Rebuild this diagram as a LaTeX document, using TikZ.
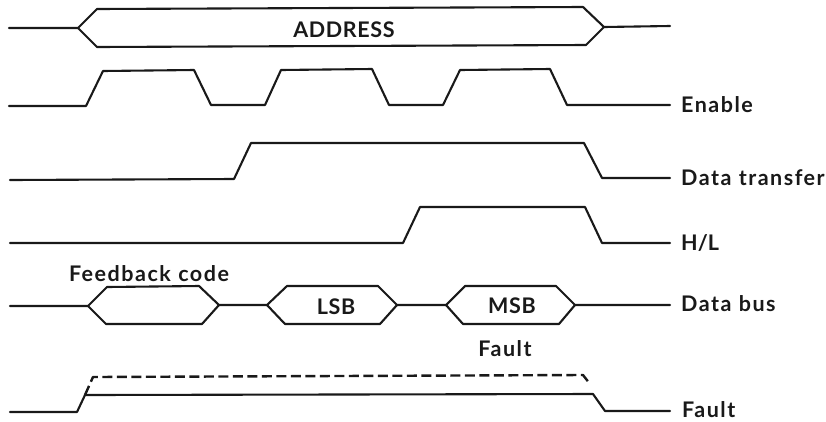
\documentclass[tikz,border=0pt]{standalone}
\usepackage{fontspec}
\setmainfont{Lato}[LetterSpace=3,WordSpace=1.1]
\tikzset{
  wave/.style={line width=2.1pt,line join=round,line cap=round,black!90},
  faintdash/.style={wave,line width=2.4pt,dash pattern=on 10pt off 4.5pt,line cap=butt},
  lab/.style={inner sep=0pt,font=\fontsize{21.5}{24}\selectfont\bfseries,text=black!90},
  widelab/.style={lab,font=\fontsize{21.5}{24}\selectfont\bfseries\addfontfeatures{LetterSpace=7}},
  tightlab/.style={lab,font=\fontsize{21.5}{24}\selectfont\bfseries\addfontfeatures{LetterSpace=0}}
}
\begin{document}
\begin{tikzpicture}[x=1pt,y=-1pt]
\useasboundingbox (0,0) rectangle (826,421);
% ADDRESS
\draw[wave] (9,28) -- (78,28) -- (97,9) -- (583,7) -- (604,27) -- (670,26);
\draw[wave] (78,28) -- (97,47) -- (586,45) -- (604,27);
\node[lab] (addr) at (344,30) {ADDRESS};
% Enable
\node[widelab,anchor=west] (en) at (681,105) {Enable};
\draw[wave] (9,106) -- (86,106) -- (103,71) -- (194,70) -- (211,105) -- (265,105) -- (281,70) -- (372,69) -- (389,105) -- (443,105) -- (460,70) -- (550,69) -- (567,105) -- (670,105);
% Data transfer
\node[widelab,anchor=west] (dt) at (681,178) {Data transfer};
\draw[wave] (10,180) -- (234,179) -- (251,143) -- (584,143) -- (602,178) -- (670,178);
% H/L
\node[tightlab,anchor=west] (hl) at (681,243) {H/L};
\draw[wave] (10,243) -- (403,243) -- (420,207) -- (585,207) -- (602,243) -- (670,243);
% Data bus
\node[widelab,anchor=west] (db) at (681,304) {Data bus};
\node[widelab] (fb) at (149,274) {Feedback code};
\node[lab] (lsb) at (336,307) {LSB};
\node[lab] (msb) at (512,306) {MSB};
\draw[wave] (10,306) -- (88,306) -- (107,287) -- (199,286) -- (219,305) -- (267,305) -- (287,286) -- (378,286) -- (397,305) -- (446,305) -- (465,286) -- (556,286) -- (575,305) -- (670,305);
\draw[wave] (88,306) -- (106,324) -- (202,324) -- (219,305);
\draw[wave] (267,305) -- (285,324) -- (380,324) -- (397,305);
\draw[wave] (446,305) -- (463,324) -- (559,324) -- (575,305);
% Fault
\node[widelab] (f1) at (505,349) {Fault};
\node[widelab,anchor=west] (f2) at (682,409.5) {Fault};
\draw[wave] (10,412) -- (77,412) -- (85,395) -- (593,394) -- (605,411) -- (670,411);
\draw[faintdash] (85,395) -- (93,377) -- (583,375) -- (590,384);
\end{tikzpicture}
\end{document}
